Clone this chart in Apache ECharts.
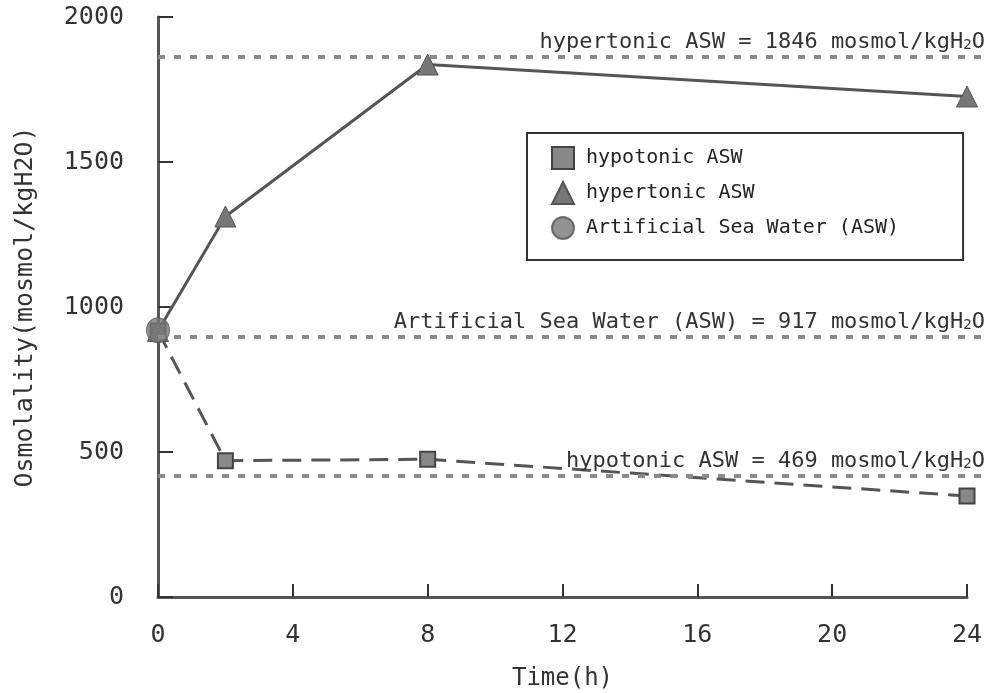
<!DOCTYPE html>
<html>
<head>
<meta charset="utf-8">
<script src="https://cdn.jsdelivr.net/npm/echarts@6/dist/echarts.min.js"></script>
<style>html,body{margin:0;padding:0;background:#fff}#c{width:996px;height:693px}</style>
</head>
<body>
<div id="c"></div>
<script>
var hypotonic = [[0, 917], [2, 470], [8, 475], [24, 348]];
var hypertonic = [[0, 917], [2, 1312], [8, 1836], [24, 1726]];
var asw = [[0, 920]];
var refLevels = [1862, 897, 417];
var refValues = ['1846', '917', '469'];
var refNames = ['hypertonic ASW', 'Artificial Sea Water (ASW)', 'hypotonic ASW'];
var xTicks = [0, 4, 8, 12, 16, 20, 24];
var yTicks = [0, 500, 1000, 1500, 2000];

var FONT = 'DejaVu Sans Mono';
var chart = echarts.init(document.getElementById('c'));

function buildOption(endPx) {
  var refLines = refLevels.map(function (v, i) {
    var end = endPx ? { x: 989, y: endPx[i] } : { coord: [24, v] };
    return [
      { coord: [0, v], label: { formatter: refNames[i] + ' = ' + refValues[i] + ' mosmol/kgH{s|2}O' } },
      end
    ];
  });
  return {
    animation: false,
    backgroundColor: '#fff',
    textStyle: { fontFamily: FONT },
    grid: { left: 158, right: 29, top: 17, bottom: 96, outerBoundsMode: 'none', containLabel: false },
    legend: {
      orient: 'vertical', left: 527, top: 133,
      padding: [13, 64, 20, 24],
      borderColor: '#333', borderWidth: 2,
      itemWidth: 22, itemHeight: 22, itemGap: 11,
      textStyle: { fontFamily: FONT, fontSize: 20, color: '#222', padding: [0, 0, 0, 7] },
      data: [
        { name: 'hypotonic ASW', icon: 'rect' },
        { name: 'hypertonic ASW', icon: 'triangle' },
        { name: 'Artificial Sea Water (ASW)', icon: 'circle' }
      ]
    },
    xAxis: {
      type: 'value', min: 0, max: 24, interval: 4,
      name: 'Time(h)', nameLocation: 'middle', nameGap: 70,
      nameTextStyle: { fontFamily: FONT, fontSize: 24, color: '#333' },
      axisLine: { lineStyle: { color: '#555', width: 3 } },
      axisTick: { inside: true, length: 13, lineStyle: { color: '#333', width: 2 } },
      axisLabel: { fontFamily: FONT, fontSize: 25, color: '#333', margin: 26,
        formatter: function (v) { return String(v); } },
      splitLine: { show: false }
    },
    yAxis: {
      type: 'value', min: 0, max: 2000, interval: 500,
      name: 'Osmolality(mosmol/kgH2O)', nameLocation: 'middle', nameGap: 120,
      nameTextStyle: { fontFamily: FONT, fontSize: 25, color: '#333' },
      axisLine: { lineStyle: { color: '#555', width: 3 } },
      axisTick: { inside: true, length: 15, lineStyle: { color: '#333', width: 2 } },
      axisLabel: { fontFamily: FONT, fontSize: 25, color: '#333', margin: 34,
        formatter: function (v) { return String(v); } },
      splitLine: { show: false }
    },
    series: [
      {
        name: 'hypotonic ASW', type: 'line', data: hypotonic,
        symbol: 'rect', symbolSize: 15,
        itemStyle: { color: '#888', borderColor: '#444', borderWidth: 2 },
        lineStyle: { color: '#555', width: 3, type: [19, 10] },
        z: 3,
        markLine: {
          silent: true, symbol: 'none',
          lineStyle: { color: '#8a8a8a', width: 4, type: [7, 9] },
          label: {
            position: 'insideEndTop', distance: 4,
            fontFamily: FONT, fontSize: 22, color: '#333',
            rich: { s: { fontFamily: FONT, fontSize: 14, color: '#333', padding: [7, 0, 0, 0] } }
          },
          data: refLines
        }
      },
      {
        name: 'hypertonic ASW', type: 'line', data: hypertonic,
        symbol: 'triangle', symbolSize: 21,
        itemStyle: { color: '#777', borderColor: '#555', borderWidth: 1 },
        lineStyle: { color: '#555', width: 3 },
        z: 3
      },
      {
        name: 'Artificial Sea Water (ASW)', type: 'scatter', data: asw,
        symbol: 'circle', symbolSize: [23, 25],
        itemStyle: { color: '#777', borderColor: '#555', borderWidth: 1 },
        z: 4
      }
    ]
  };
}

chart.setOption(buildOption(null));
var endPx = refLevels.map(function (v) { return chart.convertToPixel({ yAxisIndex: 0 }, v); });
chart.setOption(buildOption(endPx), true);
</script>
</body>
</html>
